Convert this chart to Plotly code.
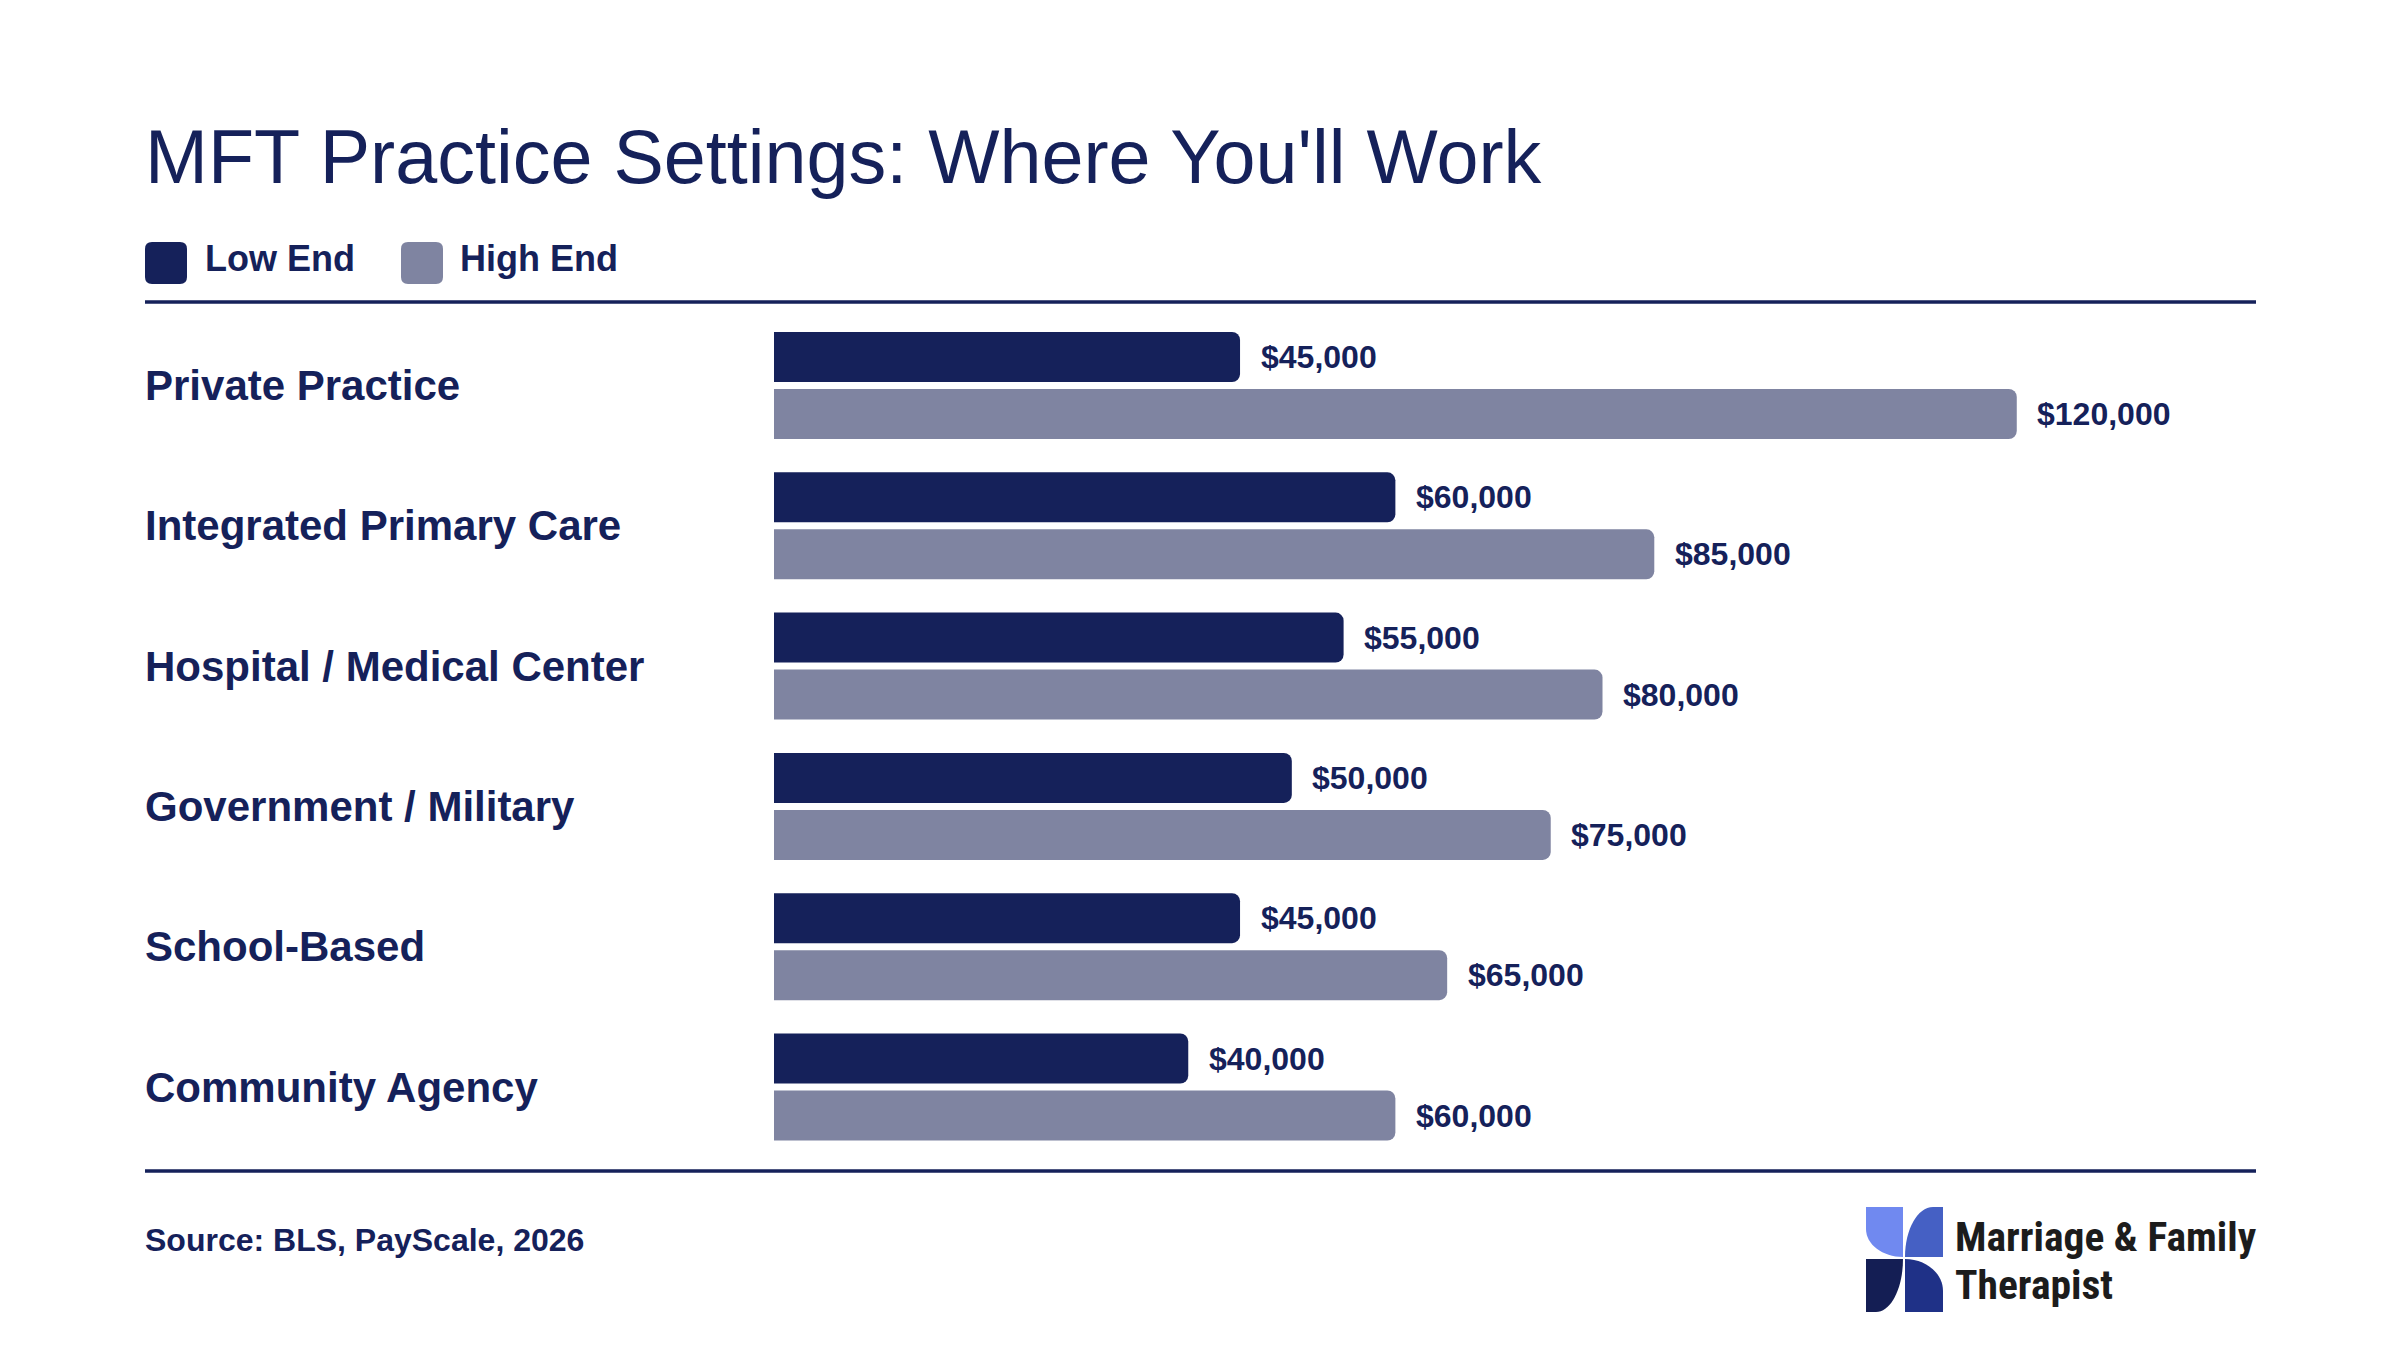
import plotly.graph_objects as go

# ---------------- data ----------------
categories = ["Private Practice", "Integrated Primary Care", "Hospital / Medical Center",
              "Government / Military", "School-Based", "Community Agency"]
low_end = [45000, 60000, 55000, 50000, 45000, 40000]
high_end = [120000, 85000, 80000, 75000, 65000, 60000]
series_names = ["Low End", "High End"]
title_text = "MFT Practice Settings: Where You'll Work"
source_text = "Source: BLS, PayScale, 2026"

# ---------------- style ----------------
NAVY = "#15215A"
GREY = "#7F84A1"
FONT = "Liberation Sans, Arial, Helvetica, sans-serif"
W, H = 2400, 1350
L, R, T, B = 145, 2256, 302, 1171   # plot area in pixels


def X(p):
    return (p - L) / (R - L)


def Y(p):
    return (B - p) / (B - T)


PITCH = 140.3
bar_w = 50 / PITCH
off_low = -(385.5 - 332) / PITCH
off_high = (389 - 385.5) / PITCH
y_top = -(385.5 - T) / PITCH
y_bot = y_top + (B - T) / PITCH

fig = go.Figure()
fig.add_trace(go.Bar(y=categories, x=low_end, orientation="h", name=series_names[0],
                     marker=dict(color=NAVY, cornerradius=8, line=dict(width=0)),
                     width=bar_w, offset=off_low, hoverinfo="skip"))
fig.add_trace(go.Bar(y=categories, x=high_end, orientation="h", name=series_names[1],
                     marker=dict(color=GREY, cornerradius=8, line=dict(width=0)),
                     width=bar_w, offset=off_high, hoverinfo="skip"))

annotations = []
XS = -2  # compensate annotation padding
# value labels
for cat, lo, hi in zip(categories, low_end, high_end):
    for v, ys in ((lo, 28.5), (hi, -28.5)):
        annotations.append(dict(x=v, y=cat, xref="x", yref="y", text=f"${v:,}",
                                showarrow=False, xanchor="left", yanchor="middle",
                                xshift=20.5 + XS, yshift=ys,
                                font=dict(family=FONT, size=32, color=NAVY, weight="bold")))
# category labels
for cat in categories:
    annotations.append(dict(x=0, y=cat, xref="paper", yref="y", text=cat,
                            showarrow=False, xanchor="left", yanchor="middle", xshift=XS,
                            font=dict(family=FONT, size=42, color=NAVY, weight="bold")))
# title
annotations.append(dict(x=0, y=Y(157), xref="paper", yref="paper", text=title_text,
                        showarrow=False, xanchor="left", yanchor="middle", xshift=XS,
                        font=dict(family=FONT, size=75.5, color=NAVY)))
# legend text
annotations.append(dict(x=X(205), y=Y(259), xref="paper", yref="paper", text=series_names[0],
                        showarrow=False, xanchor="left", yanchor="middle", xshift=XS,
                        font=dict(family=FONT, size=36, color=NAVY, weight="bold")))
annotations.append(dict(x=X(460), y=Y(259), xref="paper", yref="paper", text=series_names[1],
                        showarrow=False, xanchor="left", yanchor="middle", xshift=XS,
                        font=dict(family=FONT, size=36, color=NAVY, weight="bold")))
# source
annotations.append(dict(x=0, y=Y(1240), xref="paper", yref="paper", text=source_text,
                        showarrow=False, xanchor="left", yanchor="middle", xshift=XS,
                        font=dict(family=FONT, size=32, color=NAVY, weight="bold")))
# logo text
LOGO_FONT = "Liberation Sans Narrow, Roboto Condensed, Roboto, sans-serif"
annotations.append(dict(x=X(1955), y=Y(1236), xref="paper", yref="paper", text="Marriage & Family",
                        showarrow=False, xanchor="left", yanchor="middle", xshift=XS,
                        font=dict(family=LOGO_FONT, size=41.5, color="#1C1C1C", weight="bold")))
annotations.append(dict(x=X(1955), y=Y(1284), xref="paper", yref="paper", text="Therapist",
                        showarrow=False, xanchor="left", yanchor="middle", xshift=XS,
                        font=dict(family=LOGO_FONT, size=41.5, color="#1C1C1C", weight="bold")))

shapes = []
# rules
for yy, lw in ((T, 3.5), (B, 3.5)):
    shapes.append(dict(type="line", xref="paper", yref="paper", x0=0, x1=1, y0=Y(yy), y1=Y(yy),
                       line=dict(color=NAVY, width=lw)))


def rrect(x0, y0, x1, y1, r):
    p = []
    p.append(f"M {X(x0 + r)},{Y(y0)}")
    p.append(f"L {X(x1 - r)},{Y(y0)}")
    p.append(f"Q {X(x1)},{Y(y0)} {X(x1)},{Y(y0 + r)}")
    p.append(f"L {X(x1)},{Y(y1 - r)}")
    p.append(f"Q {X(x1)},{Y(y1)} {X(x1 - r)},{Y(y1)}")
    p.append(f"L {X(x0 + r)},{Y(y1)}")
    p.append(f"Q {X(x0)},{Y(y1)} {X(x0)},{Y(y1 - r)}")
    p.append(f"L {X(x0)},{Y(y0 + r)}")
    p.append(f"Q {X(x0)},{Y(y0)} {X(x0 + r)},{Y(y0)}")
    p.append("Z")
    return " ".join(p)


shapes.append(dict(type="path", xref="paper", yref="paper", path=rrect(145, 242, 187, 284, 7),
                   fillcolor=NAVY, line=dict(width=0)))
shapes.append(dict(type="path", xref="paper", yref="paper", path=rrect(401, 242, 443, 284, 7),
                   fillcolor=GREY, line=dict(width=0)))

# logo icon (pinwheel)
x0, xm, x1 = 1866, 1904, 1943
y0, ym, y1 = 1207, 1258, 1312
k = 0.5523


def P(x, y):
    return f"{X(x)},{Y(y)}"


# top-left
cy = y0 + 22; rx = xm - 1 - x0; ry = ym - 1 - cy
tl = (f"M {P(x0, y0)} L {P(xm - 1, y0)} L {P(xm - 1, ym - 1)} "
      f"C {P(xm - 1 - k * rx, ym - 1)} {P(x0, cy + k * ry)} {P(x0, cy)} Z")
# top-right
cx = 1933; rx = cx - (xm + 1); ry = ym - 1 - y0
tr = (f"M {P(xm + 1, ym - 1)} C {P(xm + 1, ym - 1 - k * ry)} {P(cx - k * rx, y0)} {P(cx, y0)} "
      f"L {P(x1, y0)} L {P(x1, ym - 1)} Z")
# bottom-right
cy = 1291; rx = x1 - (xm + 1); ry = cy - (ym + 1)
br = (f"M {P(xm + 1, ym + 1)} C {P(xm + 1 + k * rx, ym + 1)} {P(x1, cy - k * ry)} {P(x1, cy)} "
      f"L {P(x1, y1)} L {P(xm + 1, y1)} Z")
# bottom-left
cx = 1876; rx = (xm - 1) - cx; ry = y1 - (ym + 1)
bl = (f"M {P(xm - 1, ym + 1)} C {P(xm - 1, ym + 1 + k * ry)} {P(cx + k * rx, y1)} {P(cx, y1)} "
      f"L {P(x0, y1)} L {P(x0, ym + 1)} Z")
for path, col in ((tl, "#7089F0"), (tr, "#4560C4"), (br, "#1F3187"), (bl, "#141E54")):
    shapes.append(dict(type="path", xref="paper", yref="paper", path=path,
                       fillcolor=col, line=dict(width=0)))

fig.update_layout(
    width=W, height=H,
    margin=dict(l=L, r=W - R, t=T, b=H - B, pad=0),
    paper_bgcolor="white", plot_bgcolor="white",
    barmode="overlay",
    showlegend=False,
    xaxis=dict(domain=[X(774), 1], range=[0, 143100], visible=False, fixedrange=True),
    yaxis=dict(type="category", categoryorder="array", categoryarray=categories,
               range=[y_bot, y_top], visible=False, fixedrange=True),
    annotations=annotations,
    shapes=shapes,
    font=dict(family=FONT, color=NAVY),
)

fig.write_html("out.html", config={"displayModeBar": False})
